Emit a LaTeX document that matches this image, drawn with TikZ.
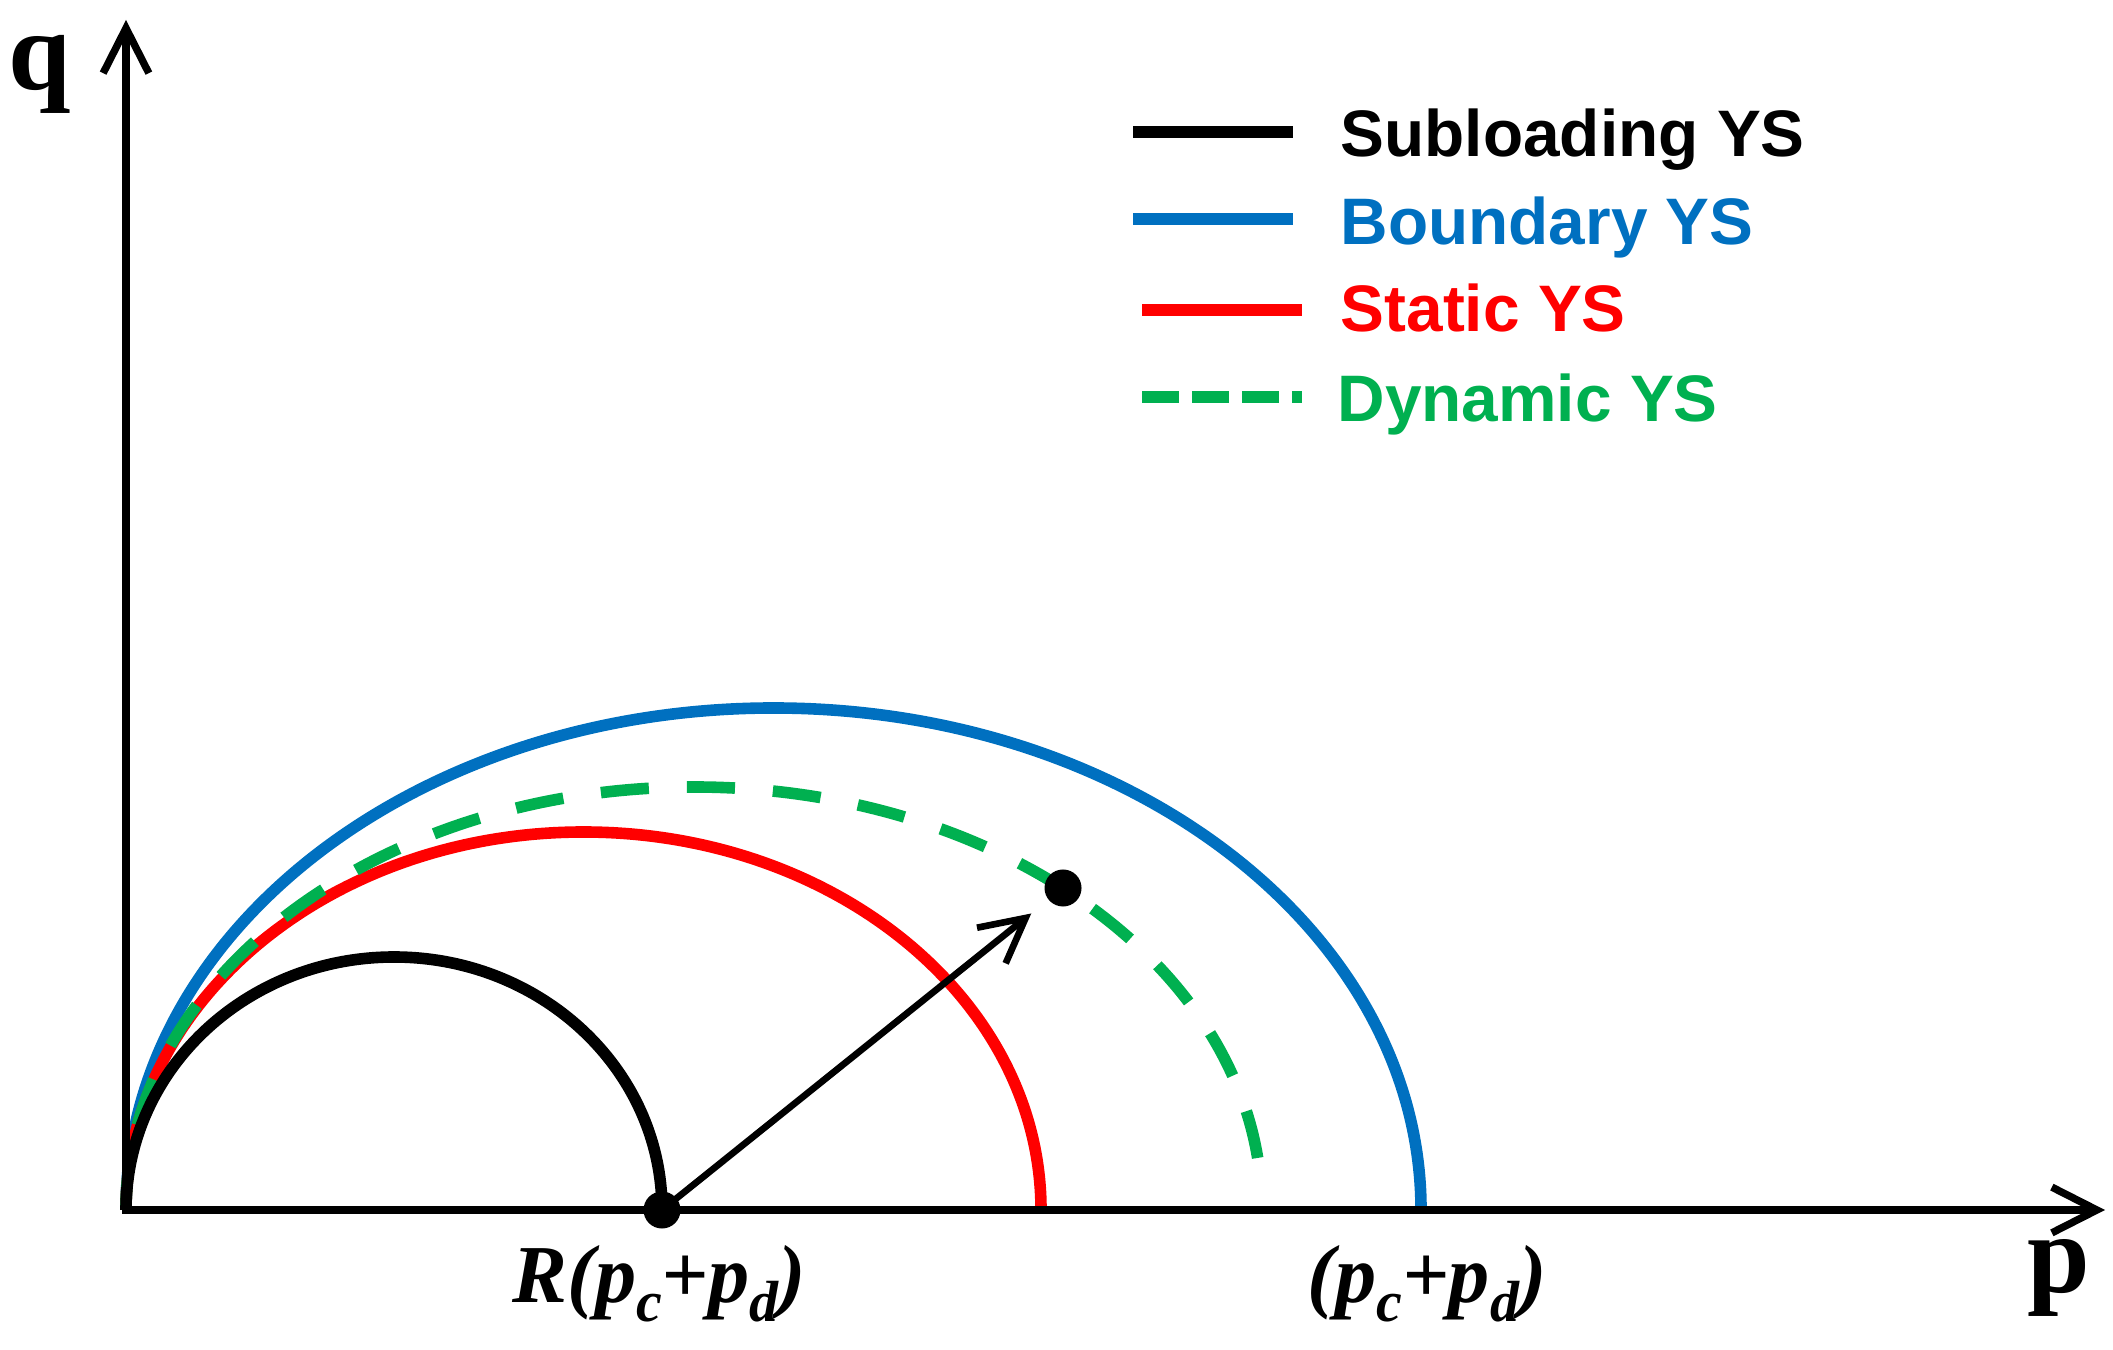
\documentclass[tikz,border=0pt]{standalone}
\usepackage{fontspec}
\setmainfont{Liberation Serif}
\newfontfamily\legendfont{Liberation Sans}
\usetikzlibrary{arrows.meta}
\definecolor{ysblue}{RGB}{0,112,192}
\definecolor{ysred}{RGB}{255,0,0}
\definecolor{ysgreen}{RGB}{0,176,80}
\newcommand\lowsub[1]{\raisebox{-0.24em}{\fontsize{16.5}{16.5}\selectfont #1}}
\tikzset{
  axisline/.style={line width=2.1pt, line join=miter, {Straight Barb[length=12.8pt,width=13pt]}-{Straight Barb[length=12.8pt,width=13pt]}},
  curve/.style={line width=3.3pt},
  dyncurve/.style={curve, ysgreen, dash pattern=on 13.7pt off 10.8pt},
  legline/.style={line width=3.5pt},
  legdash/.style={legline, ysgreen, dash pattern=on 10.5pt off 3.7pt},
  legtext/.style={anchor=base west, inner sep=0pt, font=\legendfont\bfseries\fontsize{18.7}{22}\selectfont},
  axislabel/.style={anchor=base west, inner sep=0pt, font=\bfseries\fontsize{32}{36}\selectfont},
  pointlabel/.style={anchor=base west, inner sep=0pt, font=\bfseries\itshape\fontsize{23.4}{28}\selectfont},
  dotnode/.style={circle, fill=black, inner sep=0pt, minimum size=0.37cm},
  vecarrow/.style={line width=1.9pt, -{Straight Barb[length=12.5pt,width=13pt]}, shorten >=0.215cm},
}
\begin{document}
\begin{tikzpicture}[x=0.01cm,y=0.01cm]
\useasboundingbox (0,0) rectangle (2113,1349);
\coordinate (O) at (126,139);
\coordinate (ytip) at (126,1329);
\coordinate (xtip) at (2105,139);
% yield surfaces
\draw[curve, ysblue] (O) arc[start angle=180, end angle=0, x radius=647.5, y radius=502];
\draw[curve, ysred] (O) arc[start angle=180, end angle=0, x radius=457.5, y radius=378];
\draw[dyncurve] (O) arc[start angle=180, end angle=4.5, x radius=568, y radius=423];
\draw[curve, black] (O) arc[start angle=180, end angle=0, x radius=268, y radius=253];
% axes
\draw[axisline] (ytip) -- (O) -- (xtip);
% points and vector
\node[dotnode] (c1) at (662,139) {};
\node[dotnode] (c2) at (1063,461) {};
\draw[vecarrow] (c1.center) -- (c2);
% axis labels
\node[axislabel] (qlab) at (8,1259) {q};
\node[axislabel] (plab) at (2027,56) {p};
\node[pointlabel] (rlab) at (512,47) {R(p\lowsub{c}+p\lowsub{d})};
\node[pointlabel] (pcd) at (1307,47) {(p\lowsub{c}+p\lowsub{d})};
% legend
\draw[legline, black] (1133,1217) -- (1293,1217);
\node[legtext, black] (l1) at (1340,1192) {Subloading YS};
\draw[legline, ysblue] (1133,1130) -- (1293,1130);
\node[legtext, ysblue] (l2) at (1340,1104) {Boundary YS};
\draw[legline, ysred] (1142,1039) -- (1302,1039);
\node[legtext, ysred] (l3) at (1340,1017) {Static YS};
\draw[legdash] (1142,952) -- (1302,952);
\node[legtext, ysgreen] (l4) at (1337,927) {Dynamic YS};
\end{tikzpicture}
\end{document}
